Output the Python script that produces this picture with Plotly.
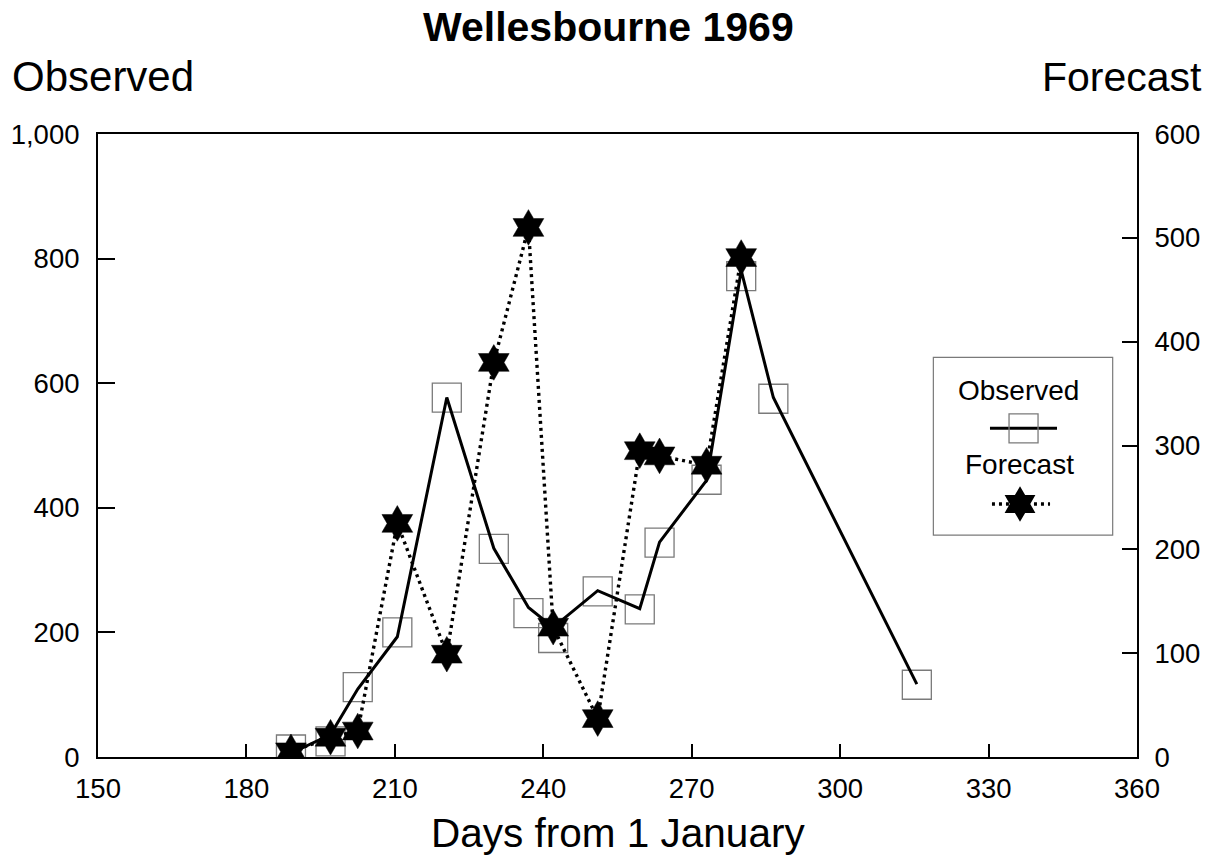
import plotly.graph_objects as go

# ---------------- data ----------------
obs_days = [189, 197, 202.5, 210.5, 220.5, 230, 237, 242, 251, 259.5, 263.5, 273, 280, 286.5, 315.5]
obs_values = [12, 25, 112, 200, 577, 334, 231, 191, 266, 237, 344, 445, 772, 575, 116]
obs_line_values = [6, 36, 109, 193, 577, 335, 240, 208, 267, 238, 345, 444, 781, 577, 117]

fc_days = [189, 197, 202.5, 210.5, 220.5, 230, 237, 242, 251, 259.5, 263.5, 273, 280]
fc_values = [5, 19, 25, 225, 99, 380, 510, 125, 37, 295, 290, 281, 481]

x_ticks = [150, 180, 210, 240, 270, 300, 330, 360]
left_ticks = [0, 200, 400, 600, 800, 1000]
right_ticks = [0, 100, 200, 300, 400, 500, 600]

title_text = "Wellesbourne 1969"
left_title = "Observed"
right_title = "Forecast"
x_title = "Days from 1 January"
series_names = ["Observed", "Forecast"]

# ---------------- style ----------------
FONT = "Liberation Sans, Arial, sans-serif"
BLACK = "#000000"
GRAY = "#7a7a7a"
W, H = 1221, 858
L, R, T, B = 98, 1221 - 1137, 134, 858 - 757

fig = go.Figure()

# observed squares (behind lines)
fig.add_trace(go.Scatter(
    x=obs_days, y=obs_values, mode="markers", name=series_names[0],
    marker=dict(symbol="square-open", size=29, color=GRAY, line=dict(width=1.3, color=GRAY)),
    showlegend=False, xaxis="x", yaxis="y"))
# observed line
fig.add_trace(go.Scatter(
    x=obs_days, y=obs_line_values, mode="lines", name=series_names[0],
    line=dict(color=BLACK, width=3), showlegend=False, xaxis="x", yaxis="y"))
# forecast (right axis)
fig.add_trace(go.Scatter(
    x=fc_days, y=fc_values, mode="lines+markers", name=series_names[1],
    line=dict(color=BLACK, width=3.4, dash="3px,4px"),
    marker=dict(symbol="hexagram", size=27, color=BLACK, line=dict(width=0.5, color=BLACK)),
    showlegend=False, xaxis="x", yaxis="y2"))

# legend samples on an invisible overlay axis (0..1 fractions of the plot area)
leg_x0, leg_x1, leg_y0, leg_y1 = 0.804, 0.9766, 0.3563, 0.6416
obs_sample_y, fc_sample_y = 0.5276, 0.4061
fig.add_trace(go.Scatter(
    x=[0.8585, 0.9230], y=[obs_sample_y, obs_sample_y], mode="lines",
    line=dict(color=BLACK, width=3), showlegend=False, hoverinfo="skip",
    xaxis="x2", yaxis="y3"))
fig.add_trace(go.Scatter(
    x=[0.8908], y=[obs_sample_y], mode="markers",
    marker=dict(symbol="square-open", size=29, color=GRAY, line=dict(width=1.3, color=GRAY)),
    showlegend=False, hoverinfo="skip", xaxis="x2", yaxis="y3"))
fig.add_trace(go.Scatter(
    x=[0.8604, 0.8874, 0.9163], y=[fc_sample_y] * 3, mode="lines",
    line=dict(color=BLACK, width=3.4, dash="3px,4px"), showlegend=False, hoverinfo="skip",
    xaxis="x2", yaxis="y3"))
fig.add_trace(go.Scatter(
    x=[0.8874], y=[fc_sample_y], mode="markers",
    marker=dict(symbol="hexagram", size=27, color=BLACK),
    showlegend=False, hoverinfo="skip", xaxis="x2", yaxis="y3"))

axis_common = dict(
    showline=True, linecolor=BLACK, linewidth=2, ticks="inside", tickcolor=BLACK,
    tickwidth=1.5, showgrid=False, zeroline=False,
    tickfont=dict(family=FONT, size=27.5, color=BLACK))

fig.update_layout(
    width=W, height=H, margin=dict(l=L, r=R, t=T, b=B, pad=0),
    paper_bgcolor="white", plot_bgcolor="white", showlegend=False,
    xaxis=dict(range=[150, 360], tickvals=x_ticks, ticklen=13, mirror=True,
               ticklabelstandoff=6, **axis_common),
    yaxis=dict(range=[0, 1000], tickvals=left_ticks, tickformat=",", ticklen=17,
               ticklabelstandoff=11, **axis_common),
    yaxis2=dict(range=[0, 600], tickvals=right_ticks, overlaying="y", side="right",
                anchor="x", ticklen=15, ticklabelstandoff=10, **axis_common),
    xaxis2=dict(range=[0, 1], overlaying="x", visible=False, anchor="y3"),
    yaxis3=dict(range=[0, 1], overlaying="y", visible=False, anchor="x2"),
    font=dict(family=FONT, color=BLACK),
)

fig.add_shape(type="rect", xref="paper", yref="paper",
              x0=leg_x0, x1=leg_x1, y0=leg_y0, y1=leg_y1,
              line=dict(color=GRAY, width=1.2), fillcolor="rgba(0,0,0,0)", layer="below")

ann = [
    dict(text=f"<b>{title_text}</b>", x=0.4918, y=1.172, size=41, xanchor="center"),
    dict(text=left_title, x=-0.0845, y=1.093, size=42, xanchor="left"),
    dict(text=right_title, x=1.0645, y=1.0915, size=41, xanchor="right"),
    dict(text=x_title, x=0.5005, y=-0.122, size=40.5, xanchor="center"),
    dict(text=series_names[0], x=0.8864, y=0.5875, size=28, xanchor="center"),
    dict(text=series_names[1], x=0.8869, y=0.4703, size=28, xanchor="center"),
]
for a in ann:
    fig.add_annotation(text=a["text"], x=a["x"], y=a["y"], xref="paper", yref="paper",
                       xanchor=a["xanchor"], yanchor="middle", showarrow=False,
                       font=dict(family=FONT, size=a["size"], color=BLACK))

fig.write_html("out.html")
